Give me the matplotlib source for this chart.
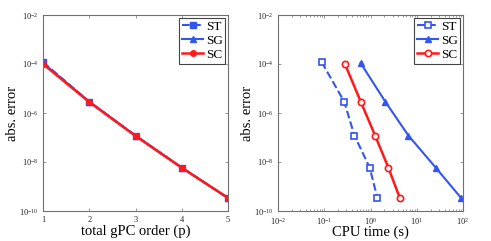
import matplotlib
matplotlib.use("Agg")
import matplotlib.pyplot as plt
from matplotlib.ticker import LogLocator, NullFormatter, FixedLocator

plt.rcParams['font.family'] = ['Liberation Serif', 'DejaVu Serif']
plt.rcParams['mathtext.fontset'] = 'stix'

order = [1, 2, 3, 4, 5]
err_ST = [1.2e-4, 2.9e-6, 1.2e-7, 5.9e-9, 3.4e-10]
err_SG = [1.1e-4, 2.9e-6, 1.2e-7, 5.9e-9, 3.4e-10]
err_SC = [1.0e-4, 2.8e-6, 1.15e-7, 5.8e-9, 3.4e-10]

cpu_ST = [0.088, 0.27, 0.45, 0.96, 1.41]
cpu_SG = [0.61, 2.09, 6.6, 25.7, 91.0]
cpu_SC = [0.28, 0.62, 1.27, 2.44, 4.3]

blue = '#3355f0'
red = '#ff1a1a'
spine = '#707070'

fig = plt.figure(figsize=(4.91, 2.41), dpi=100)
ax1 = fig.add_axes([43/491, 30/241, 185/491, 196/241])
ax2 = fig.add_axes([278/491, 30/241, 185/491, 196/241])

def style(ax):
    ax.set_yscale('log')
    ax.set_ylim(1e-10, 1e-2)
    ax.yaxis.set_major_locator(FixedLocator([1e-10, 1e-8, 1e-6, 1e-4, 1e-2]))
    ax.yaxis.set_minor_locator(FixedLocator([]))
    for s in ax.spines.values():
        s.set_color(spine)
        s.set_linewidth(0.8)
    ax.tick_params(which='both', direction='in', top=True, right=True,
                   colors=spine, labelcolor='#222222', labelsize=6, length=2.5, width=0.5)
    ax.tick_params(which='minor', length=1.5)
    ax.set_ylabel('abs. error', fontsize=10.5, labelpad=0)

# Left panel
ax1.plot(order, err_ST, '--s', color=blue, lw=1.5, ms=4, mfc=blue, label='ST')
ax1.plot(order, err_SG, '-^', color=blue, lw=1.5, ms=4, mfc=blue, label='SG')
ax1.plot(order, err_SC, '-o', color=red, lw=1.8, ms=4, mfc=red, label='SC')
style(ax1)
ax1.set_xlim(1, 5)
ax1.set_xticks([1, 2, 3, 4, 5])
ax1.set_xlabel('total gPC order (p)', fontsize=10.5, labelpad=0.5)

# Right panel
ax2.plot(cpu_ST, err_ST, '--s', color=blue, lw=1.5, ms=4, mfc='white', mew=1.2, label='ST')
ax2.plot(cpu_SG, err_SG, '-^', color=blue, lw=1.5, ms=5, mfc=blue, label='SG')
ax2.plot(cpu_SC, err_SC, '-o', color=red, lw=1.8, ms=4.5, mfc='white', mew=1.2, label='SC')
style(ax2)
ax2.set_xscale('log')
ax2.set_xlim(1e-2, 1e2)
ax2.xaxis.set_major_locator(FixedLocator([1e-2, 1e-1, 1e0, 1e1, 1e2]))
ax2.xaxis.set_minor_locator(LogLocator(base=10, subs=range(2, 10)))
ax2.xaxis.set_minor_formatter(NullFormatter())
ax2.set_xlabel('CPU time (s)', fontsize=10.5, labelpad=-1)

for ax in (ax1, ax2):
    leg = ax.legend(loc='upper right', fontsize=9.5, handlelength=1.6, handletextpad=0.2,
                    borderpad=0.2, labelspacing=0.15, borderaxespad=0.2,
                    fancybox=False, framealpha=1)
    leg.get_frame().set_edgecolor('#444444')
    leg.get_frame().set_linewidth(0.8)

fig.savefig('out.png', dpi=100)
